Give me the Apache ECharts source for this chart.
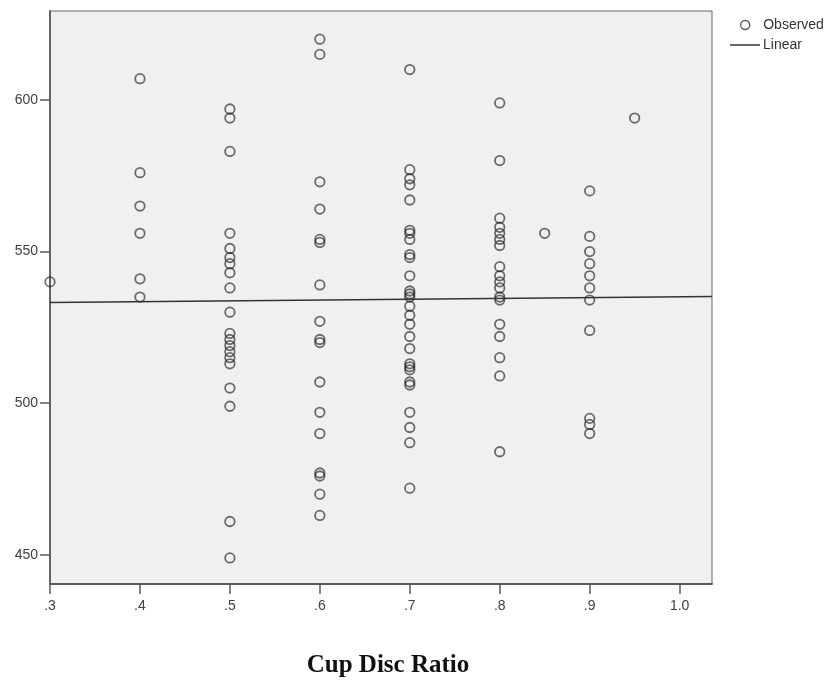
<!DOCTYPE html>
<html>
<head>
<meta charset="utf-8">
<script src="https://cdn.jsdelivr.net/npm/echarts@6/dist/echarts.min.js"></script>
<style>
html,body{margin:0;padding:0;background:#fff;}
#chart{width:838px;height:681px;}
</style>
</head>
<body>
<div id="chart"></div>
<script>
// Cup disc ratio groups (x) and observed values (y) per group
const groupX = [0.3, 0.4, 0.5, 0.6, 0.7, 0.8, 0.85, 0.9, 0.95];
const obs30 = [540];
const obs40 = [607, 576, 565, 556, 541, 535];
const obs50 = [597, 594, 583, 556, 551, 548, 546, 543, 538, 530, 523, 521, 519, 517, 515, 513, 505, 499, 461, 449];
const obs60 = [620, 615, 573, 564, 554, 553, 539, 527, 521, 520, 507, 497, 490, 477, 476, 470, 463];
const obs70 = [610, 577, 574, 572, 567, 557, 556, 554, 549, 548, 542, 537, 536, 535, 532, 529, 526, 522, 518, 513, 512, 511, 507, 506, 497, 492, 487, 472];
const obs80 = [599, 580, 561, 558, 556, 554, 552, 545, 542, 540, 538, 535, 534, 526, 522, 515, 509, 484];
const obs85 = [556];
const obs90 = [570, 555, 550, 546, 542, 538, 534, 524, 495, 493, 490];
const obs95 = [594];
const groupValues = [obs30, obs40, obs50, obs60, obs70, obs80, obs85, obs90, obs95];

// Linear fit line endpoints
const fitX = [0.3, 1.036];
const fitY = [533.2, 535.2];

// Axis ticks
const xTicks = [0.3, 0.4, 0.5, 0.6, 0.7, 0.8, 0.9, 1.0];
const yTicks = [450, 500, 550, 600];
const xRange = [0.3, 1.036];
const yRange = [440.4, 629.3];

const scatterData = [];
groupX.forEach((x, i) => groupValues[i].forEach(v => scatterData.push([x, v])));
const fitData = fitX.map((x, i) => [x, fitY[i]]);

const chart = echarts.init(document.getElementById('chart'), null, {renderer: 'canvas'});
const sans = 'Liberation Sans, Arial, sans-serif';
const labelFont = {color: '#404040', fontSize: 14, fontFamily: sans};

chart.setOption({
  animation: false,
  backgroundColor: '#ffffff',
  grid: {
    left: 50, right: 126, top: 11, bottom: 97,
    containLabel: false, outerBoundsMode: 'none',
    show: true, backgroundColor: '#f0f0f0', borderColor: '#6a6a6a', borderWidth: 1
  },
  legend: [
    {
      data: [{name: 'Observed', icon: 'circle', itemStyle: {color: 'transparent', borderColor: '#333', borderWidth: 1.4}}],
      left: 735, top: 13, itemWidth: 30, itemHeight: 9, itemGap: 2,
      textStyle: {color: '#333', fontSize: 14, fontFamily: sans, padding: [0, 0, 0, -2]}
    },
    {
      data: [{name: 'Linear', icon: 'rect', itemStyle: {color: '#333'}}],
      left: 725, top: 33, itemWidth: 30, itemHeight: 1.5, itemGap: 2,
      textStyle: {color: '#333', fontSize: 14, fontFamily: sans, padding: [0, 0, 0, -2]}
    }
  ],
  xAxis: {
    type: 'value', min: xRange[0], max: xRange[1],
    name: 'Cup Disc Ratio', nameLocation: 'middle', nameGap: 69,
    nameTextStyle: {fontFamily: 'Liberation Serif, Times New Roman, serif', fontWeight: 'bold', fontSize: 25, color: '#111', padding: [0, 0, 0, 14]},
    axisLine: {show: true, lineStyle: {color: '#5a5a5a', width: 1.8}},
    axisTick: {show: true, length: 10, customValues: xTicks, lineStyle: {color: '#5a5a5a', width: 1.5}},
    axisLabel: Object.assign({
      customValues: xTicks, margin: 15,
      formatter: v => { const s = (+v).toFixed(1); return s.startsWith('0') ? s.slice(1) : s; }
    }, labelFont),
    splitLine: {show: false}
  },
  yAxis: {
    type: 'value', min: yRange[0], max: yRange[1],
    axisLine: {show: true, lineStyle: {color: '#5a5a5a', width: 1.8}},
    axisTick: {show: true, length: 10, customValues: yTicks, lineStyle: {color: '#5a5a5a', width: 1.5}},
    axisLabel: Object.assign({customValues: yTicks, margin: 12, formatter: v => String(Math.round(v))}, labelFont),
    splitLine: {show: false}
  },
  series: [
    {
      name: 'Observed', type: 'scatter', data: scatterData,
      symbol: 'circle', symbolSize: 9.5, clip: false,
      itemStyle: {color: 'transparent', borderColor: 'rgba(30,30,30,0.8)', borderWidth: 1.8},
      emphasis: {disabled: true}
    },
    {
      name: 'Linear', type: 'line', data: fitData, symbol: 'none',
      lineStyle: {color: '#333', width: 1.5}, z: 3
    }
  ]
});
</script>
</body>
</html>
